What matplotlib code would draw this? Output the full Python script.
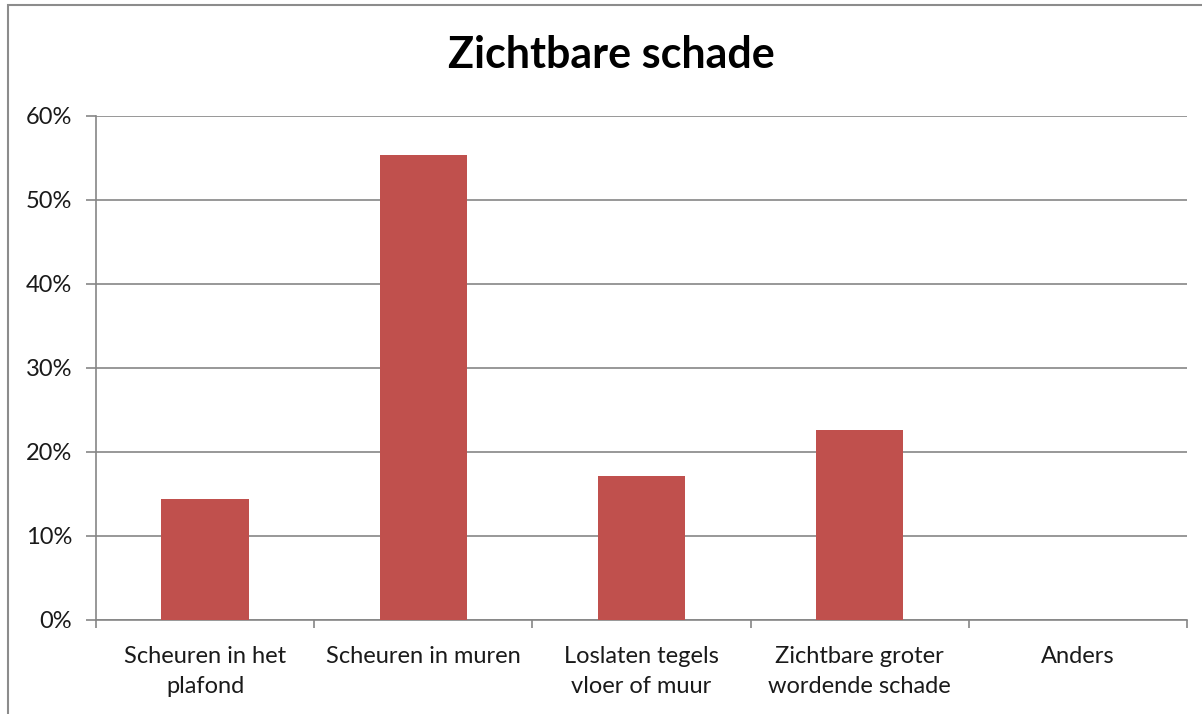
import matplotlib
matplotlib.use("Agg")
import matplotlib.pyplot as plt
from matplotlib.patches import Rectangle
from matplotlib.ticker import FixedLocator, PercentFormatter

categories = ["Scheuren in het\nplafond", "Scheuren in muren", "Loslaten tegels\nvloer of muur",
              "Zichtbare groter\nwordende schade", "Anders"]
values = [14.4, 55.3, 17.1, 22.6, 0.0]
yticks = [0, 10, 20, 30, 40, 50, 60]
title = "Zichtbare schade"

plt.rcParams['font.family'] = ['Lato', 'DejaVu Sans']

W, H = 1202, 714
fig = plt.figure(figsize=(W/100, H/100), dpi=100)
fig.patch.set_facecolor("white")

# chart-area border
fig.patches.append(Rectangle((8/W, -0.1), 1.2, (H-5)/H + 0.1, transform=fig.transFigure,
                             fill=False, edgecolor="#8c8c8c", linewidth=1.5))

ax = fig.add_axes([96/W, 1-620/H, (1187-96)/W, (620-116)/H])
x = list(range(len(categories)))
ax.bar(x, values, width=0.4, color="#C0504D", zorder=3)
ax.set_xlim(-0.5, len(categories)-0.5)
ax.set_ylim(0, 60)
ax.yaxis.set_major_locator(FixedLocator(yticks))
ax.yaxis.set_major_formatter(PercentFormatter(decimals=0))
ax.grid(axis="y", color="#868686", linewidth=1.2, zorder=0)
for s in ["top", "right"]:
    ax.spines[s].set_visible(False)
for s in ["left", "bottom"]:
    ax.spines[s].set_color("#868686")
    ax.spines[s].set_linewidth(1.2)
ax.tick_params(axis="y", length=7.2, width=1.2, color="#868686", labelsize=17, pad=10, labelcolor="#1a1a1a")
ax.set_xticks(x)
ax.set_xticklabels(categories, linespacing=1.5)
ax.tick_params(axis="x", length=0, labelsize=17, pad=19, labelcolor="#1a1a1a")
ax.set_xticks([i - 0.5 for i in range(len(categories)+1)], minor=True)
ax.tick_params(axis="x", which="minor", length=5.8, width=1.2, color="#868686")

fig.text(611/W, 1-55/H, title, ha="center", va="center", fontsize=31, fontweight="bold")

fig.savefig("out.png", dpi=100)
